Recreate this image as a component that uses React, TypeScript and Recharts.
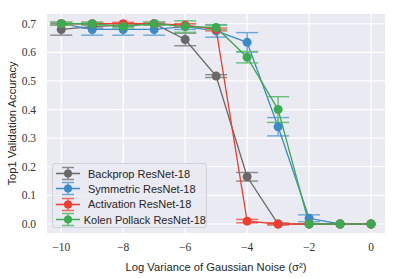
import React from "react";
import {
  LineChart, Line, XAxis, YAxis, CartesianGrid, ErrorBar, Label
} from "recharts";

const noiseLevels = [-10, -9, -8, -7, -6, -5, -4, -3, -2, -1, 0];

const backprop = [0.68, 0.69, 0.695, 0.70, 0.645, 0.517, 0.165, 0.0, 0.0, 0.0, 0.0];
const backpropErr = [0.02, 0.005, 0.005, 0.005, 0.022, 0.005, 0.015, 0.003, 0.0, 0.0, 0.0];

const symmetric = [0.70, 0.68, 0.68, 0.68, 0.69, 0.675, 0.635, 0.34, 0.02, 0.0, 0.0];
const symmetricErr = [0.005, 0.02, 0.02, 0.02, 0.01, 0.022, 0.034, 0.032, 0.012, 0.0, 0.0];

const activation = [0.70, 0.70, 0.70, 0.70, 0.695, 0.68, 0.01, 0.0, 0.0, 0.0, 0.0];
const activationErr = [0.005, 0.005, 0.005, 0.005, 0.005, 0.005, 0.006, 0.003, 0.0, 0.0, 0.0];

const kolenPollack = [0.70, 0.70, 0.69, 0.70, 0.69, 0.687, 0.583, 0.40, 0.0, 0.0, 0.0];
const kolenPollackErr = [0.005, 0.005, 0.005, 0.005, 0.02, 0.008, 0.02, 0.045, 0.0, 0.0, 0.0];

const xTicks = [-10, -8, -6, -4, -2, 0];
const yTicks = [0, 0.1, 0.2, 0.3, 0.4, 0.5, 0.6, 0.7];

const series = [
  { key: "bp", name: "Backprop ResNet-18", color: "#686868", cap: "#8a8a8a" },
  { key: "sym", name: "Symmetric ResNet-18", color: "#3b8bc9", cap: "#6aa8d8" },
  { key: "act", name: "Activation ResNet-18", color: "#f03c2f", cap: "#f4675d" },
  { key: "kp", name: "Kolen Pollack ResNet-18", color: "#3cab50", cap: "#68bf77" },
];

const data = noiseLevels.map((x, i) => ({
  x,
  bp: backprop[i], bpErr: backpropErr[i],
  sym: symmetric[i], symErr: symmetricErr[i],
  act: activation[i], actErr: activationErr[i],
  kp: kolenPollack[i], kpErr: kolenPollackErr[i],
}));

const SERIF = "'Liberation Serif', 'DejaVu Serif', serif";
const SANS = "'Liberation Sans', Arial, sans-serif";

function LegendBox() {
  return (
    <div style={{
      position: "absolute", left: 52, top: 163, width: 155, height: 65,
      background: "rgba(234,234,242,0.85)", border: "1px solid #d2d2d8", borderRadius: 3,
      padding: "2px 0 0 0", boxSizing: "border-box",
    }}>
      {series.map(s => (
        <div key={s.key} style={{ display: "flex", alignItems: "center", height: 15.3 }}>
          <svg width={34} height={15} style={{ marginLeft: 1 }}>
            <line x1={2} x2={26} y1={7.5} y2={7.5} stroke={s.color} strokeWidth={1.5} />
            <line x1={14} x2={14} y1={1.5} y2={13.5} stroke={s.cap} strokeWidth={1.5} />
            <line x1={8} x2={20} y1={1.5} y2={1.5} stroke={s.cap} strokeWidth={1.5} />
            <line x1={8} x2={20} y1={13.5} y2={13.5} stroke={s.cap} strokeWidth={1.5} />
            <circle cx={14} cy={7.5} r={4} fill={s.color} />
          </svg>
          <span style={{ fontFamily: SANS, fontSize: 11, color: "#262626", whiteSpace: "nowrap" }}>{s.name}</span>
        </div>
      ))}
    </div>
  );
}

// rotated y title placed by hand, centred on the plot area
const YTitle = (props: any) => {
  const vb = props.viewBox || { x: 0, y: 14, width: 47, height: 219 };
  const cy = vb.y + vb.height / 2;
  return (
    <text x={16} y={cy} transform={`rotate(-90, 16, ${cy})`} textAnchor="middle"
      style={{ fontFamily: SANS, fontSize: 11.2, fill: "#262626" }}>
      Top1 Validation Accuracy
    </text>
  );
};

export default function App() {
  return (
    <div style={{ position: "absolute", left: 0, top: 0, width: 399, height: 278, background: "#fff" }}>
      <LineChart width={399} height={278} data={data} margin={{ top: 14, right: 14, left: 0, bottom: 0 }}>
        <CartesianGrid fill="#eaeaf2" stroke="#ffffff" strokeWidth={1.2} horizontalValues={yTicks} verticalValues={xTicks} />
        <XAxis
          type="number" dataKey="x" domain={[-10.46, 0.45]} ticks={xTicks} height={45}
          axisLine={false} tickLine={false} tickSize={0} tickMargin={10}
          tickFormatter={(v: number) => (v < 0 ? `\u2212${Math.abs(v)}` : `${v}`)}
          tick={{ fontFamily: SERIF, fontSize: 11.5, fill: "#333" }}
        >
          <Label value={"Log Variance of Gaussian Noise (\u03c3\u00b2)"} position="insideBottom" offset={7}
            style={{ fontFamily: SANS, fontSize: 11.2, fill: "#262626" }} />
        </XAxis>
        <YAxis
          type="number" domain={[-0.0315, 0.734]} ticks={yTicks} width={47}
          axisLine={false} tickLine={false} tickSize={0} tickMargin={11}
          tickFormatter={(v: number) => v.toFixed(1)}
          tick={{ fontFamily: SERIF, fontSize: 11.5, fill: "#333" }}
        >
          <Label content={YTitle} />
        </YAxis>
        {series.map(s => (
          <Line
            key={s.key} dataKey={s.key} name={s.name} stroke={s.color} strokeWidth={1.3}
            dot={{ r: 4.5, fill: s.color, stroke: "none" }} isAnimationActive={false}
          >
            <ErrorBar dataKey={`${s.key}Err`} width={11} stroke={s.cap} strokeWidth={1.4} direction="y" />
          </Line>
        ))}
      </LineChart>
      <LegendBox />
    </div>
  );
}
